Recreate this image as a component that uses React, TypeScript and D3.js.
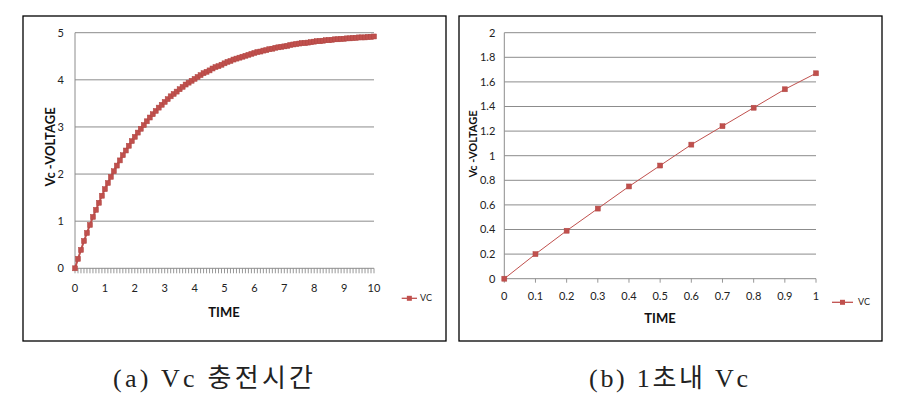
import React from "react";
import * as d3 from "d3";

// ---------- DATA ----------
// (a) charging curve, sampled every 0.1 s from 0 to 10 s
const timeStepA = 0.1;
const vcA = [
  0, 0.2, 0.39, 0.58, 0.75, 0.92, 1.09, 1.24, 1.39, 1.54,
  1.68, 1.81, 1.94, 2.06, 2.18, 2.29, 2.4, 2.5, 2.6, 2.7,
  2.79, 2.88, 2.96, 3.04, 3.12, 3.2, 3.27, 3.34, 3.41, 3.47,
  3.53, 3.59, 3.65, 3.7, 3.75, 3.8, 3.85, 3.9, 3.94, 3.98,
  4.02, 4.06, 4.1, 4.14, 4.17, 4.2, 4.24, 4.27, 4.29, 4.32,
  4.35, 4.38, 4.4, 4.43, 4.45, 4.47, 4.49, 4.51, 4.53, 4.55,
  4.57, 4.59, 4.6, 4.62, 4.63, 4.65, 4.66, 4.68, 4.69, 4.7,
  4.71, 4.72, 4.74, 4.75, 4.76, 4.77, 4.78, 4.78, 4.79, 4.8,
  4.81, 4.82, 4.82, 4.83, 4.84, 4.84, 4.85, 4.86, 4.86, 4.87,
  4.87, 4.88, 4.88, 4.89, 4.89, 4.9, 4.9, 4.9, 4.91, 4.91,
  4.92,
];
const xTickLabelsA = ["0", "1", "2", "3", "4", "5", "6", "7", "8", "9", "10"];
const yTicksA = [0, 1, 2, 3, 4, 5];

// (b) first second
const timeB = [0, 0.1, 0.2, 0.3, 0.4, 0.5, 0.6, 0.7, 0.8, 0.9, 1];
const vcB = [0, 0.2, 0.39, 0.57, 0.75, 0.92, 1.09, 1.24, 1.39, 1.54, 1.67];
const xTickLabelsB = ["0", "0.1", "0.2", "0.3", "0.4", "0.5", "0.6", "0.7", "0.8", "0.9", "1"];
const yTicksB = [0, 0.2, 0.4, 0.6, 0.8, 1, 1.2, 1.4, 1.6, 1.8, 2];

const seriesName = "VC";
const xTitle = "TIME";
const yTitle = "Vc -VOLTAGE";
const captionA = "(a) Vc 충전시간";
const captionB = "(b) 1초내 Vc";

// ---------- STYLE ----------
const RED = "#C0504D";
const GRID = "#8C8C8C";
const LABEL_FONT = "'Liberation Sans Narrow', Lato, 'Open Sans', sans-serif";
const TITLE_FONT = "Lato, 'Liberation Sans', sans-serif";
const CAPTION_FONT = "'Liberation Serif', 'Noto Sans CJK KR', serif";

type PanelProps = {
  box: [number, number, number, number];
  xRange: [number, number];
  yRange: [number, number];
  yDomain: [number, number];
  xs: number[];
  ys: number[];
  xLabelEvery: number;
  xLabels: string[];
  yTicks: number[];
  yFmt: (v: number) => string;
  tickLen: number;
  markerSize: number;
  lineWidth: number;
  xLabelY: number;
  yLabelGap: number;
  xTitlePos: [number, number];
  yTitlePos: [number, number];
  yTitleSize: number;
  legend: { x1: number; x2: number; y: number; tx: number };
  caption: string;
  captionPos: [number, number];
  captionWidth: number;
};

function Panel(p: PanelProps) {
  const x = d3.scaleLinear().domain([0, p.xs.length - 1]).range(p.xRange);
  const y = d3.scaleLinear().domain(p.yDomain).range(p.yRange);
  const line = d3
    .line<number>()
    .x((_, i) => x(i))
    .y((d) => y(d));
  const ms = p.markerSize;
  const [bx0, by0, bx1, by1] = p.box;
  return (
    <g>
      <rect x={bx0} y={by0} width={bx1 - bx0} height={by1 - by0} fill="#fff" stroke="#000" strokeWidth={1.3} />
      {p.yTicks.map((t) => (
        <line key={"g" + t} x1={p.xRange[0]} x2={p.xRange[1]} y1={y(t)} y2={y(t)} stroke={GRID} strokeWidth={1} />
      ))}
      <line x1={p.xRange[0]} x2={p.xRange[0]} y1={p.yRange[0]} y2={p.yRange[1]} stroke={GRID} strokeWidth={1} />
      {p.xs.map((_, i) => (
        <line key={"t" + i} x1={x(i)} x2={x(i)} y1={p.yRange[0]} y2={p.yRange[0] + p.tickLen} stroke={GRID} strokeWidth={0.9} />
      ))}
      {p.yTicks.map((t) => (
        <text key={"yl" + t} x={p.xRange[0] - p.yLabelGap} y={y(t)} dy="0.35em" textAnchor="end" fontSize={11} fontFamily={LABEL_FONT} fill="#222">
          {p.yFmt(t)}
        </text>
      ))}
      {p.xLabels.map((l, k) => (
        <text key={"xl" + k} x={x(k * p.xLabelEvery)} y={p.xLabelY} textAnchor="middle" fontSize={11} fontFamily={LABEL_FONT} fill="#222">
          {l}
        </text>
      ))}
      <path d={line(p.ys) || ""} fill="none" stroke={RED} strokeWidth={p.lineWidth} />
      {p.ys.map((v, i) => (
        <rect key={"m" + i} x={x(i) - ms / 2} y={y(v) - ms / 2} width={ms} height={ms} fill={RED} stroke="#B04643" strokeWidth={0.5} />
      ))}
      <text x={p.xTitlePos[0]} y={p.xTitlePos[1]} textAnchor="middle" fontSize={13} fontWeight="bold" fontFamily={TITLE_FONT} fill="#111">
        {xTitle}
      </text>
      <text
        transform={`translate(${p.yTitlePos[0]},${p.yTitlePos[1]}) rotate(-90)`}
        textAnchor="middle"
        fontSize={p.yTitleSize}
        fontWeight="bold"
        fontFamily={TITLE_FONT}
        fill="#111"
      >
        {yTitle}
      </text>
      <line x1={p.legend.x1} x2={p.legend.x2} y1={p.legend.y} y2={p.legend.y} stroke={RED} strokeWidth={1.3} />
      <rect x={(p.legend.x1 + p.legend.x2) / 2 - 2.5} y={p.legend.y - 2.5} width={5} height={5} fill={RED} />
      <text x={p.legend.tx} y={p.legend.y} dy="0.35em" fontSize={9} fontFamily={LABEL_FONT} fill="#222">
        {seriesName}
      </text>
      <text
        x={p.captionPos[0]}
        y={p.captionPos[1]}
        textAnchor="middle"
        fontSize={26}
        fontFamily={CAPTION_FONT}
        fill="#222"
        textLength={p.captionWidth}
        lengthAdjust="spacing"
      >
        {p.caption}
      </text>
    </g>
  );
}

export default function App() {
  const xsA = d3.range(vcA.length).map((i) => +(i * timeStepA).toFixed(1));
  return (
    <svg
      width={898}
      height={402}
      viewBox="0 0 898 402"
      style={{ position: "absolute", left: 0, top: 0, background: "#fff" }}
    >
      <rect x={0} y={0} width={898} height={402} fill="#fff" />
      <Panel
        box={[23, 16, 446, 341]}
        xRange={[75, 374]}
        yRange={[268.3, 32.7]}
        yDomain={[0, 5]}
        xs={xsA}
        ys={vcA}
        xLabelEvery={10}
        xLabels={xTickLabelsA}
        yTicks={yTicksA}
        yFmt={(v) => String(v)}
        tickLen={5}
        markerSize={5}
        lineWidth={2}
        xLabelY={292}
        yLabelGap={11}
        xTitlePos={[224, 317]}
        yTitlePos={[55, 147]}
        yTitleSize={13}
        legend={{ x1: 401.7, x2: 417, y: 298.3, tx: 420 }}
        caption={captionA}
        captionPos={[213, 387]}
        captionWidth={200}
      />
      <Panel
        box={[459, 16, 882, 341]}
        xRange={[504.3, 816]}
        yRange={[278.7, 32.7]}
        yDomain={[0, 2]}
        xs={timeB}
        ys={vcB}
        xLabelEvery={1}
        xLabels={xTickLabelsB}
        yTicks={yTicksB}
        yFmt={(v) => String(+v.toFixed(1))}
        tickLen={4}
        markerSize={5}
        lineWidth={1}
        xLabelY={300}
        yLabelGap={9}
        xTitlePos={[660, 323]}
        yTitlePos={[477, 144]}
        yTitleSize={11}
        legend={{ x1: 832, x2: 853, y: 302.3, tx: 858 }}
        caption={captionB}
        captionPos={[668.5, 387]}
        captionWidth={159}
      />
    </svg>
  );
}
